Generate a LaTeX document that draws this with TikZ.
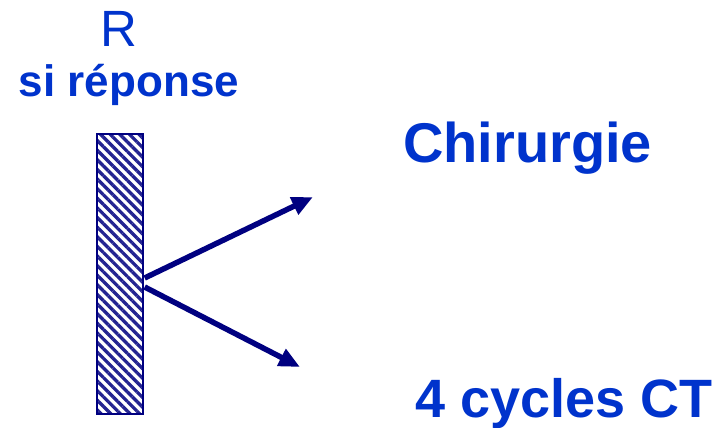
\documentclass[tikz,border=0pt]{standalone}
\usepackage{fontspec}
\setmainfont{Liberation Sans}
\usetikzlibrary{arrows.meta,patterns.meta}
\definecolor{labelblue}{RGB}{0,51,204}
\definecolor{arrownavy}{RGB}{0,0,128}
\definecolor{stripeblue}{RGB}{35,35,145}
\tikzset{
  label text/.style={text=labelblue, inner sep=0pt, anchor=base},
  hatched bar/.style={draw=arrownavy, line width=2pt,
    minimum width=46pt, minimum height=280pt, inner sep=0pt,
    pattern={Lines[angle=135, distance=6.8pt, line width=3.3pt]},
    pattern color=stripeblue},
  branch/.style={arrownavy, line width=5.5pt,
    -{Triangle[length=21pt, width=18pt]}}
}
\begin{document}
\begin{tikzpicture}[x=1pt, y=1pt]
  \useasboundingbox (0,0) rectangle (728,428);

  % titles above the bar
  \node[label text, font=\fontsize{51}{51}\selectfont] (rtitle) at (118.5,381) {R};
  \node[label text, font=\fontsize{44}{44}\selectfont\bfseries] (rsub) at (129,331) {si réponse};

  % hatched bar
  \node[hatched bar] (bar) at (120,154) {};

  % outcomes
  \node[label text, font=\fontsize{56}{56}\selectfont\bfseries] (surg) at (527.5,265) {Chirurgie};
  \node[label text, anchor=base west, font=\fontsize{54}{54}\selectfont\bfseries] (chemo) at (415,10) {4 cycles CT};

  % arrow ends
  \coordinate (up) at (313,231);
  \coordinate (down) at (300,61);

  \draw[branch] ([yshift=-4pt]bar.east) -- (up);
  \draw[branch] ([yshift=-13pt]bar.east) -- (down);
\end{tikzpicture}
\end{document}
